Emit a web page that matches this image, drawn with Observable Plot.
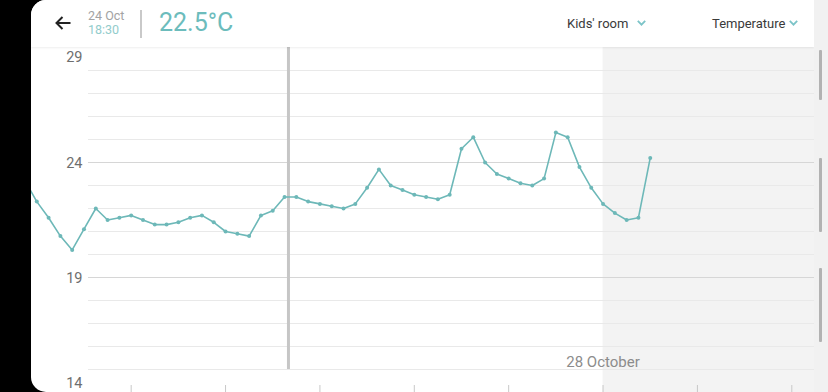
<!DOCTYPE html>
<html><head><meta charset="utf-8">
<script src="https://cdn.jsdelivr.net/npm/d3@7"></script>
<script src="https://cdn.jsdelivr.net/npm/@observablehq/plot@0.6"></script>
<style>
html,body{margin:0;padding:0;background:#000;width:828px;height:392px;overflow:hidden;font-family:Roboto,"Noto Sans",sans-serif;}
#panel{position:absolute;left:31px;top:0;width:797px;height:392px;border-radius:15px 0 0 15px;overflow:hidden;background:#fff;}
#chart{position:absolute;left:-31px;top:0;}
#chart svg{background:linear-gradient(#f5f5f5,#ffffff);display:block;}
#strip{position:absolute;left:783px;top:0;width:14px;height:392px;background:#f1f1f1;}
.sb{position:absolute;left:5px;width:3px;background:#b2b2b2;border-radius:1px;}
#header{position:absolute;left:0;top:0;width:783px;height:47px;background:#fff;box-shadow:0 1px 2px rgba(0,0,0,0.07);}
.h{position:absolute;white-space:nowrap;}
#date1{left:57px;top:10px;font-size:12.5px;line-height:11px;color:#a3a3a3;}
#date2{left:57px;top:24px;font-size:12.5px;line-height:11px;color:#92cccc;}
#div{position:absolute;left:109px;top:10px;width:1.5px;height:28px;background:#c9c9c9;}
#temp{left:128px;top:8px;font-size:25px;line-height:30px;color:#6cbcbc;}
.sel{top:15px;font-size:13px;line-height:18px;color:#3a3a3a;}
.chev{position:absolute;top:20px;}
</style></head>
<body>
<div id="panel">
  <div id="chart"></div>
  <div id="header">
    <svg class="h" style="left:24px;top:16px" width="16" height="14" viewBox="0 0 16 14"><path d="M15.5 7H1.5M7.5 1L1.5 7L7.5 13" fill="none" stroke="#222" stroke-width="2"/></svg>
    <div class="h" id="date1">24 Oct</div>
    <div class="h" id="date2">18:30</div>
    <div id="div"></div>
    <div class="h" id="temp">22.5°C</div>
    <div class="h sel" style="left:536px">Kids' room</div>
    <svg class="chev" style="left:606px" width="9" height="6" viewBox="0 0 9 6"><path d="M0.8 0.8L4.5 4.6L8.2 0.8" fill="none" stroke="#7cc4c8" stroke-width="1.8"/></svg>
    <div class="h sel" style="left:681px">Temperature</div>
    <svg class="chev" style="left:758px" width="9" height="6" viewBox="0 0 9 6"><path d="M0.8 0.8L4.5 4.6L8.2 0.8" fill="none" stroke="#7cc4c8" stroke-width="1.8"/></svg>
  </div>
  <div id="strip">
    <div class="sb" style="top:50px;height:50px"></div>
    <div class="sb" style="top:158px;height:74px"></div>
    <div class="sb" style="top:268px;height:74px"></div>
  </div>
</div>
<script>
// Readings every 3 hours, starting 21 Oct 21:00 (first point is just off-screen)
const startTime = "2023-10-21T21:00:00Z";
const stepHours = 3;
const temperatures = [23.2,
  22.3, 21.6, 20.8, 20.2, 21.1, 22.0, 21.5, 21.6, 21.7, 21.5,
  21.3, 21.3, 21.4, 21.6, 21.7, 21.4, 21.0, 20.9, 20.8, 21.7,
  21.9, 22.5, 22.5, 22.3, 22.2, 22.1, 22.0, 22.2, 22.9, 23.7,
  23.0, 22.8, 22.6, 22.5, 22.4, 22.6, 24.6, 25.1, 24.0, 23.5,
  23.3, 23.1, 23.0, 23.3, 25.3, 25.1, 23.8, 22.9, 22.2, 21.8,
  21.5, 21.6, 24.2];
const dayTicks = ["2023-10-23","2023-10-24","2023-10-25","2023-10-26","2023-10-27","2023-10-28","2023-10-29","2023-10-30"];
const dayLabels = [{day: "2023-10-28", label: "28 October"}];
const xDomain = ["2023-10-22T00:00:00Z", "2023-10-30T06:00:00Z"];
const shadedFrom = "2023-10-28";
const cursorTime = "2023-10-24T16:00:00Z";
const yDomain = [14, 29];
const majorGrid = [19, 24];
const minorGrid = [15, 16, 17, 18, 20, 21, 22, 23, 25, 26, 27, 28];
const yLabelsMiddle = [19, 24];
const yLabelTop = [29];
const yLabelBottom = [14];

const t0 = new Date(startTime);
const data = temperatures.map((v, i) => ({time: d3.utcHour.offset(t0, i * stepHours), temp: v}));
const D = s => new Date(s);

const lineColor = "#6db8b8";
const chart = Plot.plot({
  width: 828,
  height: 392,
  marginTop: 47,
  marginBottom: 0,
  marginLeft: 88,
  marginRight: 14,
  style: {fontFamily: "Roboto, 'Noto Sans', sans-serif", background: "transparent"},
  x: {type: "utc", domain: xDomain.map(D), range: [36.3, 814.9], axis: null},
  y: {domain: yDomain, axis: null},
  marks: [
    Plot.rect([0], {x1: () => D(shadedFrom), x2: () => D(xDomain[1]), fill: "#e8e8e8", fillOpacity: 0.5}),
    Plot.ruleY(minorGrid, {y: d => d, stroke: "#e9e9e9", strokeWidth: 1}),
    Plot.ruleY(majorGrid, {y: d => d, stroke: "#d6d6d6", strokeWidth: 1.2}),
    Plot.ruleX([cursorTime], {x: d => D(d), stroke: "#c6c6c6", strokeWidth: 3, insetBottom: 23}),
    Plot.tickX(dayTicks, {x: d => D(d), stroke: "#c8c8c8", strokeWidth: 1, insetTop: 338}),
    Plot.text(dayLabels, {x: d => D(d.day), text: "label", frameAnchor: "bottom", dy: -26, fontSize: 15, fill: "#8c8c8c"}),
    Plot.text(yLabelsMiddle, {y: d => d, text: d => String(d), frameAnchor: "left", textAnchor: "end", dx: -6, dy: 1, fontSize: 14.5, fill: "#6e6e6e"}),
    Plot.text(yLabelTop, {y: d => d, text: d => String(d), frameAnchor: "left", textAnchor: "end", dx: -6, dy: 10, fontSize: 14.5, fill: "#6e6e6e"}),
    Plot.text(yLabelBottom, {y: d => d, text: d => String(d), frameAnchor: "left", textAnchor: "end", dx: -6, dy: -9, fontSize: 14.5, fill: "#6e6e6e"}),
    Plot.line(data, {x: "time", y: "temp", stroke: lineColor, strokeWidth: 1.6}),
    Plot.dot(data, {x: "time", y: "temp", r: 2, fill: lineColor})
  ]
});
document.getElementById("chart").appendChild(chart);
</script>
</body></html>
